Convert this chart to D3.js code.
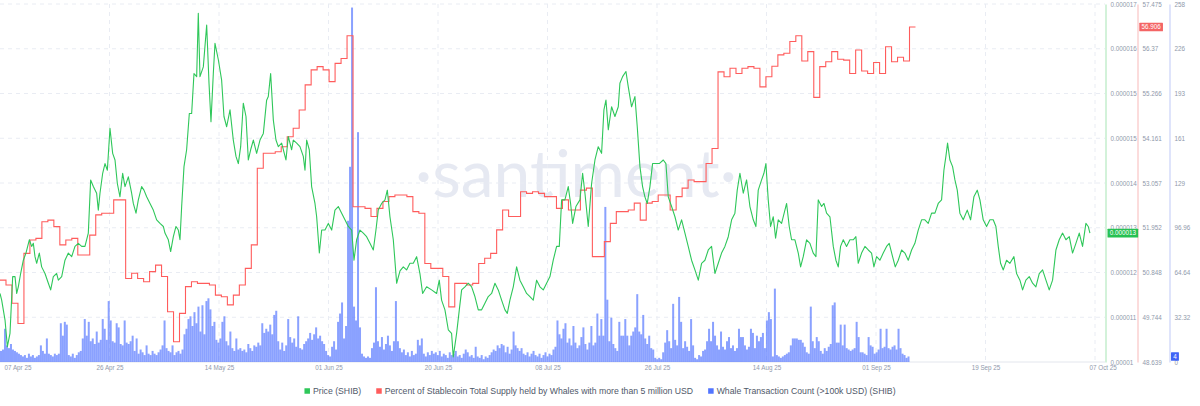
<!DOCTYPE html>
<html><head><meta charset="utf-8">
<script src="https://cdn.jsdelivr.net/npm/d3@7"></script>
<style>html,body{margin:0;padding:0;background:#fff;} svg{display:block;font-family:"Liberation Sans",Arial,sans-serif;}</style>
</head><body><svg id="chart" width="1200" height="406"></svg>
<script>
// ---------------- DATA ----------------
const xTickLabels = ["07 Apr 25","26 Apr 25","14 May 25","01 Jun 25","20 Jun 25","08 Jul 25","26 Jul 25","14 Aug 25","01 Sep 25","19 Sep 25","07 Oct 25"];
const priceTickLabels = ["0.00001","0.000011","0.000012","0.000013","0.000014","0.000015","0.000015","0.000016","0.000017"];
const pctTickLabels = ["48.639","49.744","50.848","51.952","53.057","54.161","55.266","56.37","57.475"];
const whaleTickLabels = ["0","32.32","64.64","96.96","129","161","193","226","258"];
const seriesNames = ["Price (SHIB)","Percent of Stablecoin Total Supply held by Whales with more than 5 million USD","Whale Transaction Count (>100k USD) (SHIB)"];

// [days since 07 Apr 2025, SHIB price in millionths of USD]
const priceSeries = [[0,11.34],[0.28,11.21],[0.84,10.82],[1.23,10.30],[1.67,10.56],[2.12,11.67],[2.51,11.67],[2.79,11.34],[3.06,11.47],[3.45,11.73],[3.90,11.99],[4.34,12.13],[4.90,12.39],[5.29,12.26],[5.57,12.32],[5.85,12.06],[6.13,11.93],[6.57,12.13],[6.96,11.86],[7.52,11.73],[8.08,11.54],[8.47,11.41],[8.91,11.67],[9.47,11.73],[9.75,11.60],[10.31,11.67],[10.86,11.99],[11.42,12.13],[11.98,12.06],[12.53,12.26],[13.09,12.32],[13.65,12.26],[14.20,12.26],[14.76,12.52],[15.15,13.56],[15.60,13.43],[16.15,13.30],[16.43,12.97],[16.71,13.30],[17.16,13.69],[17.55,13.88],[17.94,13.75],[18.38,14.57],[18.83,14.08],[19.22,13.95],[19.61,13.49],[20.05,13.23],[20.50,13.69],[20.89,13.43],[21.45,13.62],[22.00,13.30],[22.28,13.10],[22.73,12.91],[23.12,13.17],[23.67,13.43],[24.06,13.36],[24.51,13.23],[25.07,13.10],[25.62,12.97],[26.18,12.78],[26.74,12.71],[27.30,12.65],[27.57,12.52],[28.13,12.39],[28.52,12.16],[28.97,12.45],[29.41,12.65],[29.80,12.58],[30.08,12.39],[30.36,13.04],[30.75,13.82],[31.19,14.15],[31.64,14.86],[32.03,14.86],[32.42,15.64],[32.87,15.58],[33.14,16.82],[33.42,15.58],[33.98,15.77],[34.54,16.59],[34.93,15.45],[35.26,14.70],[35.65,15.64],[35.93,16.23],[36.49,15.91],[37.04,15.51],[37.43,14.80],[37.88,14.60],[38.44,14.93],[38.99,14.34],[39.44,14.02],[39.83,13.88],[40.22,14.21],[40.66,15.06],[41.11,14.80],[41.50,13.95],[41.89,14.15],[42.34,14.34],[42.89,14.08],[43.45,14.34],[44.01,14.47],[44.56,15.12],[44.84,15.19],[45.23,15.64],[45.68,14.73],[46.12,14.34],[46.51,14.21],[47.07,14.28],[47.79,13.95],[48.18,14.41],[48.74,14.15],[49.02,14.34],[49.58,14.28],[50.13,14.21],[50.69,14.02],[50.97,13.75],[51.25,14.34],[51.69,14.15],[52.08,13.43],[52.64,13.10],[52.92,12.84],[53.37,12.13],[53.76,12.58],[54.31,12.58],[54.87,12.71],[55.43,12.58],[55.98,12.97],[56.54,13.04],[57.10,12.91],[57.65,12.78],[58.21,12.65],[58.77,12.58],[59.16,11.99],[59.60,12.39],[60.16,12.58],[60.72,12.52],[61.27,12.45],[61.83,12.32],[62.39,12.19],[62.83,12.58],[63.22,12.97],[63.78,13.10],[64.34,13.17],[64.73,13.36],[65.17,12.84],[65.73,12.39],[66.29,11.54],[66.85,11.78],
[67.40,11.86],[67.95,11.80],[68.51,11.93],[69.07,11.93],[69.63,12.06],[70.18,11.73],[70.63,11.34],[71.30,11.47],[72.13,11.41],[72.97,11.34],[73.41,11.60],[73.80,11.21],[74.36,11.02],[74.92,10.63],[75.47,10.56],[75.75,10.10],[76.31,10.56],[76.76,11.02],[77.15,11.41],[77.70,11.47],[78.26,11.54],[78.82,11.47],[79.37,11.28],[79.93,11.02],[80.49,11.02],[81.04,11.15],[81.60,11.28],[82.16,11.34],[82.72,11.54],[83.27,11.41],[83.83,11.21],[84.39,11.02],[84.78,10.95],[85.22,11.21],[85.78,11.47],[86.34,11.86],[86.89,11.60],[87.45,11.47],[88.01,11.34],[88.56,11.28],[89.12,11.21],[89.68,11.60],[90.24,11.47],[90.79,11.41],[91.35,11.54],[91.91,11.67],[92.46,11.99],[93.02,12.26],[93.47,12.26],[93.86,13.17],[94.41,13.17],[94.97,13.43],[95.36,13.10],[95.70,12.71],[96.25,13.04],[96.92,13.17],[97.37,13.69],[97.76,13.30],[98.31,12.65],[98.87,13.49],[99.43,13.95],[99.98,14.21],[100.54,14.08],[100.93,14.93],[101.27,15.12],[101.66,14.54],[102.21,14.99],[102.77,14.80],[103.33,14.99],[103.60,15.45],[104.05,15.58],[104.61,15.68],[105.00,15.38],[105.55,14.99],[106.11,15.19],[106.50,14.60],[106.95,13.82],[107.39,13.43],[107.78,13.23],[108.17,13.10],[108.62,13.43],[109.06,13.88],[109.62,13.88],[110.18,13.88],[110.85,13.95],[111.29,13.88],[111.68,13.23],[112.24,13.04],[112.80,12.84],[113.35,12.58],[113.91,12.78],[114.47,12.52],[115.02,12.26],[115.58,11.99],[116.14,11.80],[116.70,11.60],[117.25,11.93],[117.81,11.99],[118.37,12.19],[118.92,12.26],[119.48,11.73],[120.04,11.93],[120.59,12.13],[121.15,12.26],[121.71,12.45],[122.27,12.78],[122.82,12.91],[123.21,13.36],[123.66,13.69],[124.22,13.30],[124.77,13.56],
[125.33,13.04],[125.89,12.78],[126.33,12.65],[126.72,13.36],[127.28,13.56],[127.67,13.69],[128.00,13.88],[128.39,13.17],[128.78,12.65],[129.23,12.84],[129.62,12.42],[130.06,12.78],[130.62,12.71],[131.46,13.10],[131.90,12.65],[132.29,12.39],[132.85,12.39],[133.41,12.13],[133.80,11.86],[134.24,12.06],[134.80,12.39],[135.36,12.32],[135.91,12.13],[136.36,12.06],[136.75,13.17],[137.31,13.04],[137.70,13.10],[138.14,12.91],[138.70,12.84],[139.26,12.26],[139.70,11.99],[140.09,11.86],[140.48,12.26],[140.93,12.39],[141.48,12.26],[142.04,12.39],[142.60,12.39],[143.04,12.45],[143.43,11.93],[143.99,12.13],[144.55,12.26],[145.11,12.19],[145.66,12.13],[146.05,11.86],[146.50,12.06],[147.05,11.99],[147.61,12.13],[148.17,12.26],[148.61,12.32],[149.17,12.06],[149.62,11.86],[150.12,11.99],[150.68,12.19],[151.23,12.13],[151.79,11.99],[152.35,12.19],[152.90,12.32],[153.46,12.58],[154.02,12.78],[154.57,12.78],[155.13,12.71],[155.69,12.91],[156.25,12.91],[156.80,13.10],[157.36,13.17],[157.75,13.75],[158.08,14.02],[158.36,14.28],[158.75,13.95],[159.20,13.82],[159.59,13.56],[159.98,13.36],[160.42,12.91],[160.98,12.78],[161.65,12.97],[162.21,12.78],[162.76,13.23],[163.32,13.36],[163.77,13.17],[164.32,12.78],[164.88,12.65],[165.44,12.78],[165.99,12.78],[166.44,12.65],[166.83,12.26],[167.22,11.93],[167.67,11.80],[168.22,11.99],[168.78,11.93],[169.45,12.06],[169.89,11.73],[170.45,11.60],[170.90,11.41],[171.45,11.60],[172.01,11.67],[172.57,11.54],[173.12,11.47],[173.68,11.73],[174.24,11.80],[174.80,11.60],[175.35,11.41],[175.91,11.60],[176.47,12.19],[177.02,12.39],[177.58,12.52],[178.14,12.39],[178.70,12.45],[179.25,12.13],[179.81,12.32],[180.37,12.52],[180.92,12.26],[181.48,12.71],[181.87,12.65],[182.15,12.52]];

// daily values from 07 Apr 2025 (percent)
const stablecoinPct = [
50.66,50.54,50.09,49.59,51.32,51.65,51.69,52.10,52.14,51.98,
51.53,51.65,51.69,51.28,51.28,51.77,52.27,52.31,52.31,52.64,
52.64,50.70,50.83,50.70,50.62,50.87,51.03,50.75,49.88,49.14,
49.84,50.50,50.62,50.58,50.58,50.54,50.29,50.25,50.05,50.29,
50.54,50.95,51.53,53.42,53.79,53.79,53.83,53.95,54.20,54.41,
54.86,55.48,55.85,55.93,55.85,55.56,56.01,56.13,56.69,52.47,
52.47,52.43,52.23,52.43,52.60,52.72,52.76,52.76,52.72,52.35,
52.31,51.07,50.95,50.95,50.75,50.00,50.58,50.58,50.54,50.58,
51.07,51.20,51.32,51.90,52.39,52.23,52.23,52.84,52.80,52.84,
52.80,52.72,52.72,52.43,52.64,52.39,52.39,52.88,52.93,51.24,
51.24,51.61,52.06,52.35,52.35,52.39,52.56,52.14,52.56,52.60,
52.76,52.76,52.39,52.72,52.93,53.13,53.09,53.09,53.54,53.91,
55.80,55.68,55.89,55.76,55.89,55.93,55.89,55.43,55.68,55.94,
56.22,56.26,56.55,56.69,56.07,56.30,55.17,55.93,56.05,56.30,
56.11,56.09,55.76,56.34,55.82,55.76,56.03,55.76,56.42,56.05,
56.16,56.07,56.906];

// 8-hour bins from 07 Apr 2025
const whaleCounts = [
8,9,24,12,10,13,9,8,7,6, 5,4,5,3,6,4,5,3,4,5, 12,8,6,17,6,5,4,6,5,6, 28,19,29,27,5,4,6,3,5,7,
8,17,31,19,29,15,17,13,22,14, 16,31,24,16,44,30,15,14,28,25, 13,12,30,14,13,15,19,8,17,6, 9,7,5,12,6,5,8,6,5,7,
9,12,30,10,8,7,12,5,7,8, 6,9,20,24,31,33,26,36,28,40, 22,41,20,44,46,38,26,29,16,14, 17,29,33,15,12,22,10,8,17,9,
10,8,9,7,13,10,8,12,11,14, 12,28,21,24,22,27,20,34,37,15, 9,14,8,12,31,18,14,17,11,33, 10,9,13,
15,17,21,16,20,25,17,19,15,13, 8,5,4,11,15,9,29,35,43,17, 26,102,141,256,40,30,166,25,6,4, 3,4,3,10,14,54,15,11,18,9,
13,19,12,8,15,44,15,10,7,9, 5,7,4,8,5,6,16,12,17,6, 4,7,5,8,6,7,5,8,4,6, 5,3,7,5,6,8,4,5,3,6,
9,7,4,5,3,11,4,3,5,2, 4,3,5,7,9,8,12,10,13,12, 7,11,6,9,22,12,10,8,10,6, 5,7,4,6,8,5,4,6,3,5,
7,4,6,5,9,11,30,20,17,24, 28,14,17,12,26,14,10,12,18,25, 13,9,14,26,12,14,35,19,31,19, 112,45,
15,32,13,10,8,29,19,19,31,19, 12,19,22,25,49,22,20,34,17,13, 19,10,9,3,2,3,2,7,14,23, 15,10,42,16,12,47,29,10,15,11,
8,31,12,3,2,5,4,8,9,15, 24,15,29,19,12,9,22,11,9,15, 18,10,12,8,10,24,18,18,12,9, 11,24,21,10,19,15,18,21,10,30,
36,31,4,53,5,4,3,4,5,6, 7,12,17,17,17,16,16,14,11,7, 6,40,15,10,18,15,8,6,10,8, 11,13,41,43,14,14,27,12,27,10,
9,8,9,10,29,18,7,7,6,5, 18,12,11,6,7,9,24,10,11,24, 10,9,11,12,9,24,10,6,5,3, 4];

// ---------------- CHART ----------------
const DAY = 864e5, BIN = 8 * 3600e3;
const t0 = Date.UTC(2025, 3, 7), t1 = Date.UTC(2025, 9, 7);
const W = 1200, H = 406;
const plot = {left: 0, right: 1095, top: 4, bottom: 362, axisEnd: 1105};
const colors = {price: "#2fc75a", pct: "#ff5c5c", whale: "#5275ff"};

const svg = d3.select("#chart");
svg.append("rect").attr("width", W).attr("height", H).attr("fill", "#fff");

const x = d3.scaleUtc().domain([t0, t1]).range([plot.left, plot.right]);
const yPrice = d3.scaleLinear().domain([10, 17]).range([plot.bottom, plot.top]);
const yPct = d3.scaleLinear().domain([48.639, 57.475]).range([plot.bottom, plot.top]);
const yWhale = d3.scaleLinear().domain([0, 258.56]).range([plot.bottom, plot.top]);

const nY = priceTickLabels.length;
const priceTicks = d3.range(nY).map(k => 10 + k * 7 / (nY - 1));
const pctTicks = d3.range(nY).map(k => 48.639 + k * (57.475 - 48.639) / (nY - 1));
const whaleTicks = d3.range(nY).map(k => k * 258.56 / (nY - 1));
const xTicks = d3.range(xTickLabels.length).map(k => t0 + k * (t1 - t0) / (xTickLabels.length - 1));

// watermark
svg.append("text").attr("x", 576).attr("y", 197).attr("text-anchor", "middle")
  .attr("font-family", "Lato, 'Open Sans', sans-serif").attr("font-size", 66)
  .attr("fill", "#e6e9f2").text("·santiment·");

// grid
const grid = svg.append("g");
grid.selectAll(".hg").data(pctTicks.slice(1)).join("line")
  .attr("x1", plot.left).attr("x2", plot.axisEnd)
  .attr("y1", d => yPct(d)).attr("y2", d => yPct(d))
  .attr("stroke", "#e9ecf3").attr("stroke-dasharray", "4,4");
grid.selectAll(".vg").data(xTicks.slice(1)).join("line")
  .attr("x1", d => x(d)).attr("x2", d => x(d))
  .attr("y1", plot.top).attr("y2", plot.bottom)
  .attr("stroke", "#e9ecf3").attr("stroke-dasharray", "4,4");
grid.append("line").attr("x1", plot.left).attr("x2", plot.axisEnd)
  .attr("y1", plot.bottom).attr("y2", plot.bottom).attr("stroke", "#e3e6ed");

// bars
const bw = x(t0 + BIN) - x(t0);
svg.append("g").selectAll("rect").data(whaleCounts).join("rect")
  .attr("x", (d, i) => x(t0 + i * BIN))
  .attr("width", bw)
  .attr("y", d => yWhale(d))
  .attr("height", d => plot.bottom - yWhale(d))
  .attr("fill", colors.whale).attr("fill-opacity", 0.68);

// stablecoin step line
const pctPts = stablecoinPct.map((v, i) => [t0 + i * DAY, v]);
pctPts.push([t0 + stablecoinPct.length * DAY, stablecoinPct[stablecoinPct.length - 1]]);
svg.append("path").datum(pctPts)
  .attr("d", d3.line().x(d => x(d[0])).y(d => yPct(d[1])).curve(d3.curveStepAfter))
  .attr("fill", "none").attr("stroke", colors.pct).attr("stroke-width", 1.1);

// price line
svg.append("path").datum(priceSeries)
  .attr("d", d3.line().x(d => x(t0 + d[0] * DAY)).y(d => yPrice(d[1])))
  .attr("fill", "none").attr("stroke", colors.price).attr("stroke-width", 1.1)
  .attr("stroke-linejoin", "round");

// x axis
const fs = 6.3, labelColor = "#9099ab";
const xAxis = svg.append("g").attr("transform", `translate(0,${plot.bottom})`)
  .call(d3.axisBottom(x).tickValues(xTicks).tickFormat((d, i) => xTickLabels[i]).tickSize(0).tickPadding(4));
xAxis.select(".domain").remove();
xAxis.selectAll("text").attr("font-size", fs).attr("fill", labelColor).attr("font-family", "'Liberation Sans', Arial, sans-serif");
xAxis.selectAll("text").filter((d, i) => i === 0).attr("text-anchor", "start").attr("x", 4);
xAxis.selectAll("text").filter((d, i) => i === xTicks.length - 1).attr("text-anchor", "start").attr("x", -6);

// right axes
function rightAxis(scale, ticks, labels, xPos, lineColor) {
  const g = svg.append("g").attr("transform", `translate(${xPos},0)`)
    .call(d3.axisRight(scale).tickValues(ticks).tickFormat((d, i) => labels[i]).tickSize(0).tickSizeOuter(0).tickPadding(5));
  g.select(".domain").attr("stroke", lineColor).attr("stroke-width", 1);
  g.selectAll("text").attr("font-size", fs).attr("fill", labelColor).attr("font-family", "'Liberation Sans', Arial, sans-serif");
  return g;
}
rightAxis(yPrice, priceTicks, priceTickLabels, 1105.5, "#a7e5b4");
rightAxis(yPct, pctTicks, pctTickLabels, 1137.5, "#f8b9b9");
rightAxis(yWhale, whaleTicks, whaleTickLabels, 1169.5, "#bfc9f7");

// last value badges
function badge(xPos, yPos, text, color) {
  const g = svg.append("g").attr("transform", `translate(${xPos},${yPos})`);
  const t = g.append("text").attr("x", 2.2).attr("y", 0).attr("dy", "0.35em")
    .attr("font-size", fs).attr("fill", "#fff").attr("font-family", "'Liberation Sans', Arial, sans-serif").text(text);
  const w = t.node().getComputedTextLength() + 4.4;
  g.insert("rect", "text").attr("x", 0).attr("y", -4.3).attr("width", w).attr("height", 8.6).attr("fill", color).attr("rx", 0.5);
}
const lastPrice = priceSeries[priceSeries.length - 1][1];
const lastPct = stablecoinPct[stablecoinPct.length - 1];
const lastWhale = whaleCounts[whaleCounts.length - 1];
badge(1107.5, yPrice(lastPrice), (lastPrice / 1e6).toFixed(6), "#27c152");
badge(1139.3, yPct(lastPct), lastPct.toFixed(3), "#f46565");
badge(1171, yWhale(lastWhale), String(lastWhale), "#3f64f6");

// legend
const legend = svg.append("g").attr("font-size", 8.7).attr("fill", "#4f5869");
const legendColors = [colors.price, colors.pct, colors.whale];
const gap = 15;
let lx = 0;
seriesNames.forEach((name, i) => {
  const g = legend.append("g");
  g.append("rect").attr("width", 5.5).attr("height", 5.5).attr("y", -2.75).attr("fill", legendColors[i]);
  const t = g.append("text").attr("x", 8.5).attr("dy", "0.35em").text(name);
  const w = 8.5 + t.node().getComputedTextLength();
  g.attr("transform", `translate(${lx},0)`);
  lx += w + gap;
});
const totalW = lx - gap;
legend.attr("transform", `translate(${(W - totalW) / 2},391)`);
</script>
</body></html>
